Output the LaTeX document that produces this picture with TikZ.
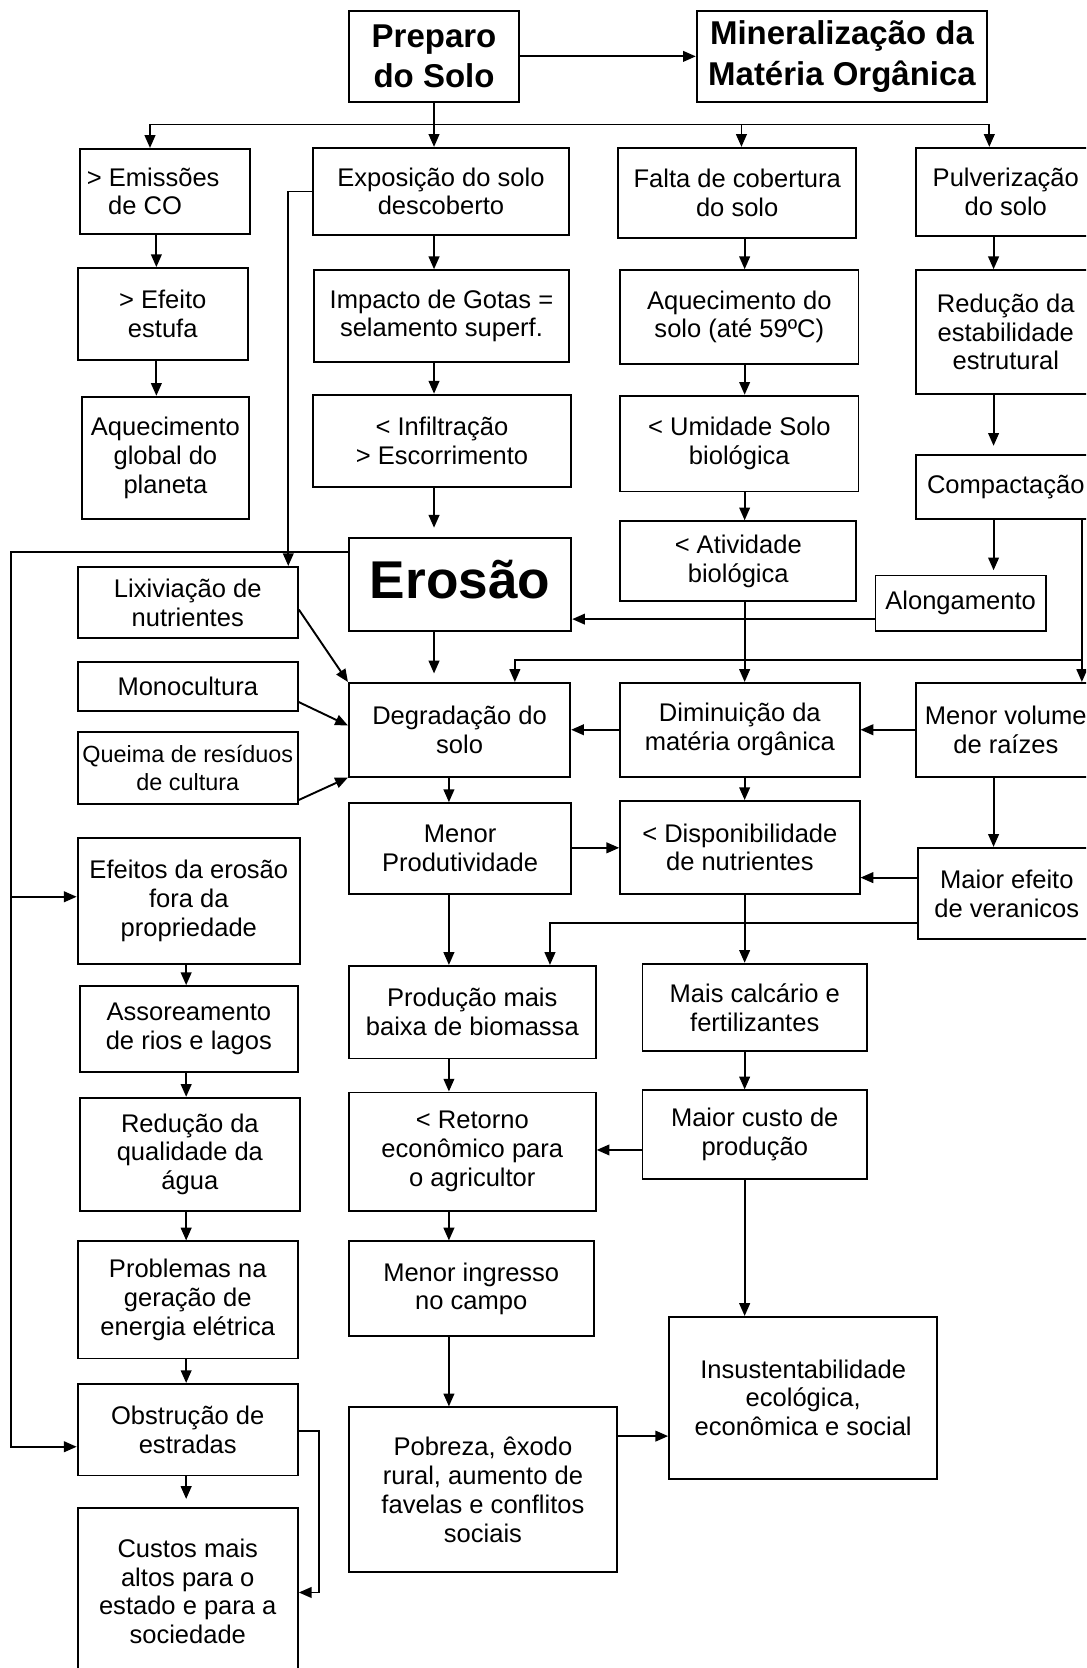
\documentclass[tikz,border=0pt]{standalone}
\usepackage{fontspec}
\setmainfont{Liberation Sans}
\usetikzlibrary{arrows.meta,calc}
\tikzset{
  box/.style={draw, line width=1.8pt, inner sep=0pt, align=center, font=\fontsize{24}{27}\selectfont},
  hdr/.style={font=\bfseries\fontsize{31}{38}\selectfont},
  ln/.style={line width=1.8pt},
  arr/.style={line width=1.8pt, -{Triangle[length=12pt,width=10pt]}},
}
\newcommand\mybox[7][]{\node[box,minimum width={(#5-#3)*1pt},minimum height={(#6-#4)*1pt},#1] (#2) at ({(#3+#5)/2},{(#4+#6)/2}) {#7};}
\begin{document}
\begin{tikzpicture}[x=1pt,y=-1pt]
\useasboundingbox (0,0) rectangle (1021,1568);
\clip (0,0) rectangle (1021,1568);
% top
\mybox[hdr]{P}{328}{10}{488}{96}{Preparo\\do Solo}
\mybox[hdr]{M}{655}{10}{928}{96}{Mineralização da\\Matéria Orgânica}
% column 1
\mybox[align=left]{E1}{75}{140}{235}{220}{> Emissões\hspace*{22pt}\\\hspace*{20pt}de CO}
\mybox{E2}{73}{252}{233}{338}{> Efeito\\estufa}
\mybox{E3}{77}{373}{234}{488}{Aquecimento\\global do\\planeta}
% column 2
\mybox{X1}{294}{139}{535}{221}{Exposição do solo\\descoberto}
\mybox{X2}{295}{254}{535}{340}{Impacto de Gotas =\\selamento superf.}
\mybox{X3}{294}{371}{537}{458}{< Infiltração\\> Escorrimento}
\mybox[font=\bfseries\fontsize{50}{56}\selectfont,text height=57pt,text depth=30pt,minimum height=0pt]{ER}{328}{506}{537}{593}{Erosão}
% column 3
\mybox{F1}{581}{139}{805}{224}{Falta de cobertura\\do solo}
\mybox{F2}{583}{254}{807}{342}{Aquecimento do\\solo (até 59ºC)}
\mybox{F3}{583}{372}{807}{462}{< Umidade Solo\\biológica}
\mybox{F4}{583}{490}{805}{565}{< Atividade\\biológica}
% column 4
\mybox{PU}{861}{139}{1030}{222}{Pulverização\\do solo}
\mybox{RE}{861}{254}{1030}{370}{Redução da\\estabilidade\\estrutural}
\mybox{C}{861}{428}{1030}{488}{Compactação}
\mybox{A}{823}{541}{983}{593}{Alongamento}
% middle band
\mybox{L}{73}{533}{280}{600}{Lixiviação de\\nutrientes}
\mybox{MO}{73}{622}{280}{668}{Monocultura}
\mybox[font=\fontsize{22}{26}\selectfont]{Q}{73}{688}{280}{756}{Queima de resíduos\\de cultura}
\mybox{D}{328}{642}{536}{730}{Degradação do\\solo}
\mybox{DM}{583}{642}{808}{730}{Diminuição da\\matéria orgânica}
\mybox{MV}{861}{642}{1030}{730}{Menor volume\\de raízes}
\mybox{MP}{328}{755}{537}{840}{Menor\\Produtividade}
\mybox{DN}{583}{753}{808}{840}{< Disponibilidade\\de nutrientes}
\mybox{ME}{863}{797}{1030}{883}{Maior efeito\\de veranicos}
% lower middle
\mybox{PB}{328}{908}{560}{995}{Produção mais\\baixa de biomassa}
\mybox{MC}{604}{906}{815}{988}{Mais calcário e\\fertilizantes}
\mybox{RT}{328}{1027}{560}{1138}{< Retorno\\econômico para\\o agricultor}
\mybox{CU}{604}{1025}{815}{1108}{Maior custo de\\produção}
\mybox{MI}{328}{1167}{558}{1256}{Menor ingresso\\no campo}
\mybox{PO}{328}{1323}{580}{1478}{Pobreza, êxodo\\rural, aumento de\\favelas e conflitos\\sociais}
\mybox{IN}{629}{1238}{881}{1390}{Insustentabilidade\\ecológica,\\econômica e social}
% left lower
\mybox{EF}{73}{788}{282}{906}{Efeitos da erosão\\fora da\\propriedade}
\mybox{AS}{75}{927}{280}{1008}{Assoreamento\\de rios e lagos}
\mybox{RQ}{75}{1032}{282}{1138}{Redução da\\qualidade da\\água}
\mybox{PE}{73}{1167}{280}{1277}{Problemas na\\geração de\\energia elétrica}
\mybox{OB}{73}{1301}{280}{1387}{Obstrução de\\estradas}
\mybox{CA}{73}{1418}{280}{1574}{Custos mais\\altos para o\\estado e para a\\sociedade}
% helper coordinates
\coordinate (c1) at (147,0);
\coordinate (c2) at (408,0);
\coordinate (c3) at (700,0);
\coordinate (c4) at (934,0);
\coordinate (c5) at (175,0);
\coordinate (c6) at (422,0);
\coordinate (b1) at (141,117);
\coordinate (b3) at (697,117);
\coordinate (b4) at (930,117);
\coordinate (r1) at (1017,0);
\coordinate (dx) at (484,0);
\coordinate (xl) at (10,0);
\coordinate (xe) at (271,0);
\coordinate (xpb) at (517,0);
\coordinate (xr) at (300,0);
\coordinate (h620) at (0,620);
\coordinate (h583) at (0,582);
\coordinate (h519) at (0,519);
\coordinate (h1360) at (0,1360);
\coordinate (h843) at (0,843);
\coordinate (h573) at (0,573);
\coordinate (h660) at (0,660);
\coordinate (h682) at (0,682);
\coordinate (h752) at (0,752);
\coordinate (h797) at (0,797);
\coordinate (h825) at (0,825);
\coordinate (h868) at (0,868);
\coordinate (h1081) at (0,1081);
\coordinate (h1350) at (0,1350);
\coordinate (h1345) at (0,1345);
\coordinate (h1497) at (0,1497);
% top connectors
\draw[arr] (P.east) -- (M.west);
\draw[ln] (b1) -- (b4);
\draw[arr] (b1) -- (b1 |- E1.north);
\draw[arr] (P.south -| c2) -- (X1.north -| c2);
\draw[arr] (b3) -- (b3 |- F1.north);
\draw[arr] (b4) -- (b4 |- PU.north);
% column 1
\draw[arr] (E1.south -| c1) -- (E2.north -| c1);
\draw[arr] (E2.south -| c1) -- (E3.north -| c1);
% column 2
\draw[arr] (X1.south -| c2) -- (X2.north -| c2);
\draw[arr] (X2.south -| c2) -- (X3.north -| c2);
\draw[arr] (X3.south -| c2) -- ([yshift=9pt]ER.north -| c2);
\draw[arr] (ER.south -| c2) -- ([yshift=8pt]D.north -| c2);
% column 3
\draw[arr] (F1.south -| c3) -- (F2.north -| c3);
\draw[arr] (F2.south -| c3) -- (F3.north -| c3);
\draw[arr] (F3.south -| c3) -- (F4.north -| c3);
\draw[arr] (F4.south -| c3) -- (DM.north -| c3);
% column 4
\draw[arr] (PU.south -| c4) -- (RE.north -| c4);
\draw[arr] (RE.south -| c4) -- ([yshift=8pt]C.north -| c4);
\draw[arr] (C.south -| c4) -- ([yshift=4pt]A.north -| c4);
\draw[arr] (C.south -| r1) -- (MV.north -| r1);
\draw[arr] (h620 -| r1) -- (h620 -| dx) -- (D.north -| dx);
\draw[arr] (A.west |- h583) -- (ER.east |- h583);
% erosion side lines
\draw[arr] (ER.west |- h519) -- (h519 -| xl) -- (h1360 -| xl) -- (OB.west |- h1360);
\draw[arr] (h843 -| xl) -- (EF.west |- h843);
\draw[arr] (X1.west) -- (X1.west -| xe) -- (L.north -| xe);
% into degradation
\draw[arr] (L.east |- h573) -- (D.north west);
\draw[arr] (MO.east |- h660) -- (D.west |- h682);
\draw[arr] (Q.east |- h752) -- (D.south west);
\draw[arr] (DM.west) -- (D.east);
\draw[arr] (MV.west) -- (DM.east);
% middle band
\draw[arr] (D.south -| c6) -- (MP.north -| c6);
\draw[arr] (DM.south -| c3) -- (DN.north -| c3);
\draw[arr] (MP.east |- h797) -- (DN.west |- h797);
\draw[arr] (MV.south -| c4) -- (ME.north -| c4);
\draw[arr] (ME.west |- h825) -- (DN.east |- h825);
\draw[arr] (ME.west |- h868) -- (h868 -| xpb) -- (PB.north -| xpb);
\draw[arr] (MP.south -| c6) -- (PB.north -| c6);
\draw[arr] (DN.south -| c3) -- (MC.north -| c3);
% lower middle
\draw[arr] (MC.south -| c3) -- (CU.north -| c3);
\draw[arr] (CU.west |- h1081) -- (RT.east |- h1081);
\draw[arr] (PB.south -| c6) -- (RT.north -| c6);
\draw[arr] (RT.south -| c6) -- (MI.north -| c6);
\draw[arr] (MI.south -| c6) -- (PO.north -| c6);
\draw[arr] (PO.east |- h1350) -- (IN.west |- h1350);
\draw[arr] (CU.south -| c3) -- (IN.north -| c3);
% left lower
\draw[arr] (EF.south -| c5) -- (AS.north -| c5);
\draw[arr] (AS.south -| c5) -- (RQ.north -| c5);
\draw[arr] (RQ.south -| c5) -- (PE.north -| c5);
\draw[arr] (PE.south -| c5) -- (OB.north -| c5);
\draw[arr] (OB.south -| c5) -- ([yshift=8pt]CA.north -| c5);
\draw[arr] (OB.east |- h1345) -- (h1345 -| xr) -- (h1497 -| xr) -- (CA.east |- h1497);
\end{tikzpicture}
\end{document}
